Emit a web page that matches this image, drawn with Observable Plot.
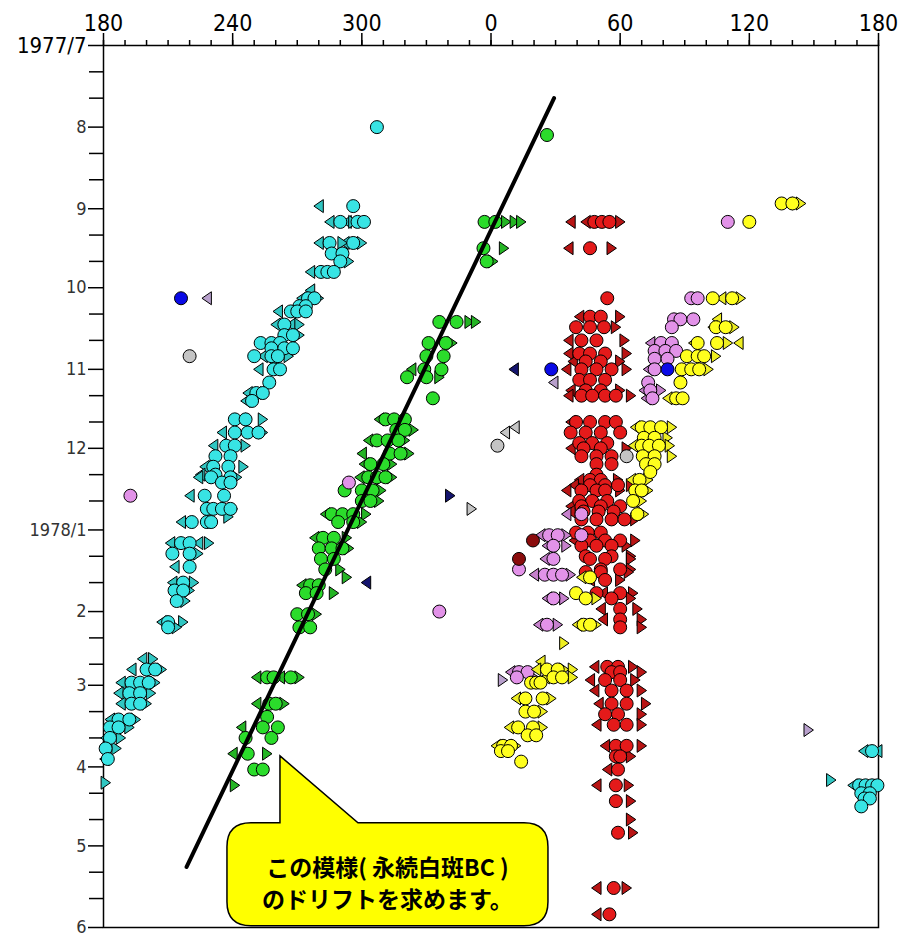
<!DOCTYPE html>
<html><head><meta charset="utf-8">
<script src="https://cdn.jsdelivr.net/npm/d3@7"></script>
<script src="https://cdn.jsdelivr.net/npm/@observablehq/plot@0.6"></script>
<style>
html,body{margin:0;padding:0;background:#fff;}
#chart{width:901px;height:936px;}
</style></head><body><div id="chart"></div>
<script>
// ---------- axis ticks & labels ----------
const xTickValues = [180, 240, 300, 360, 420, 480, 540];
const xTickLabels = ["180", "240", "300", "0", "60", "120", "180"];
const monthTicks = ["1977-07-01","1977-08-01","1977-09-01","1977-10-01","1977-11-01","1977-12-01",
  "1978-01-01","1978-02-01","1978-03-01","1978-04-01","1978-05-01","1978-06-01"];
const monthTickLabels = ["1977/7","8","9","10","11","12","1978/1","2","3","4","5","6"];

// ---------- observations: [date, preceding-end lons (◀), centre lons (●), following-end lons (▶)] ----------
const redObs = [
 ["1977-09-06",[37,44],[48,51.5,55],[57,60]],
 ["1977-09-16",[36],[46],[56]],
 ["1977-10-05",[],[54],[]],
 ["1977-10-12",[41],[46,51],[60]],
 ["1977-10-16",[],[39.5,46,52.5],[58]],
 ["1977-10-21",[36],[42,49],[62]],
 ["1977-10-26",[36],[41,46,53],[63]],
 ["1977-10-29",[38],[44,51],[60]],
 ["1977-11-01",[35],[42,49,56],[63]],
 ["1977-11-05",[],[41,46,53],[]],
 ["1977-11-09",[37],[44,51],[60]],
 ["1977-11-11",[36],[42,47,53,58],[65]],
 ["1977-11-21",[37],[39.5,46,53,58],[]],
 ["1977-11-25",[],[37,44,51,60],[]],
 ["1977-11-29",[],[41,47,54],[]],
 ["1977-12-01",[37],[43,51],[63]],
 ["1977-12-04",[],[42,49,56],[]],
 ["1977-12-07",[],[49,56],[]],
 ["1977-12-11",[],[49],[]],
 ["1977-12-13",[41],[46,51],[59]],
 ["1977-12-15",[38.5],[46,53,59],[65]],
 ["1977-12-17",[35],[42,49,53],[60]],
 ["1977-12-21",[],[41,47,54],[]],
 ["1977-12-23",[37],[42,51,60],[]],
 ["1977-12-25",[37],[43,50,57],[]],
 ["1977-12-28",[],[42,49,56,62],[67]],
 ["1978-01-02",[],[39.5,45,51],[]],
 ["1978-01-05",[38.5],[46,53,60],[67]],
 ["1978-01-07",[],[42,49,56],[63]],
 ["1978-01-11",[],[44,56],[65]],
 ["1978-01-12",[],[46,53],[65]],
 ["1978-01-16",[],[51,60],[65]],
 ["1978-01-17",[],[44,51],[64]],
 ["1978-01-20",[46],[53],[60]],
 ["1978-01-25",[52],[49,60],[66]],
 ["1978-01-27",[],[56],[65]],
 ["1978-01-31",[51],[60],[68]],
 ["1978-02-04",[52],[60],[70]],
 ["1978-02-07",[],[60],[70]],
 ["1978-02-22",[48],[54,59],[66]],
 ["1978-02-24",[],[56,60],[70]],
 ["1978-02-27",[46],[53,60],[67]],
 ["1978-03-03",[48],[56,63],[70]],
 ["1978-03-08",[50],[56,63],[72]],
 ["1978-03-12",[],[53,59],[70]],
 ["1978-03-16",[49],[57,63],[70]],
 ["1978-03-24",[53],[58,63],[70]],
 ["1978-03-28",[],[58,60],[65]],
 ["1978-04-02",[54],[59],[]],
 ["1978-04-08",[49],[58],[64]],
 ["1978-04-14",[],[58],[65]],
 ["1978-04-21",[],[],[65]],
 ["1978-04-26",[],[59],[66]],
 ["1978-05-17",[49],[57],[63]],
 ["1978-05-27",[49],[55],[]]
];
const cyanObs = [
 ["1977-08-01",[],[307],[]],
 ["1977-08-31",[280],[296],[]],
 ["1977-09-06",[285,293],[290,298,301],[296]],
 ["1977-09-14",[280,292],[285,296],[291,300]],
 ["1977-09-18",[],[286,291],[]],
 ["1977-09-21",[],[290],[294]],
 ["1977-09-25",[276],[281,284,287],[]],
 ["1977-10-02",[276],[],[]],
 ["1977-10-05",[272],[275,278],[280]],
 ["1977-10-08",[],[271,274],[]],
 ["1977-10-10",[261],[267,270,274],[]],
 ["1977-10-15",[260,267],[264],[271]],
 ["1977-10-19",[],[264,268],[271]],
 ["1977-10-22",[260],[253,258,262],[]],
 ["1977-10-24",[],[258,264,268],[]],
 ["1977-10-27",[254],[250,258,261],[266]],
 ["1977-10-30",[],[],[260]],
 ["1977-11-01",[252],[259,262],[]],
 ["1977-11-06",[],[257],[]],
 ["1977-11-10",[247,251],[251,254],[]],
 ["1977-11-13",[246],[249],[]],
 ["1977-11-20",[244],[241,246],[254]],
 ["1977-11-25",[235],[241,247,252],[254]],
 ["1977-11-30",[231],[237,241],[246]],
 ["1977-12-04",[],[232,239],[]],
 ["1977-12-08",[227],[231,238],[245]],
 ["1977-12-11",[225],[232],[]],
 ["1977-12-12",[224],[230,239],[242]],
 ["1977-12-14",[],[235,239],[]],
 ["1977-12-19",[220],[227,236],[]],
 ["1977-12-24",[],[228,231,235,239],[240]],
 ["1977-12-27",[],[],[238]],
 ["1977-12-29",[216],[221,228,230],[]],
 ["1978-01-06",[211,224],[216,220],[229]],
 ["1978-01-10",[],[212,220],[224]],
 ["1978-01-15",[213],[220],[]],
 ["1978-01-21",[212],[217],[222]],
 ["1978-01-24",[],[213,217],[220]],
 ["1978-01-28",[],[214],[218]],
 ["1978-02-05",[207],[210],[217]],
 ["1978-02-07",[],[210],[214]],
 ["1978-02-19",[198],[],[203]],
 ["1978-02-23",[193],[200,204],[207]],
 ["1978-02-28",[188],[193,197,201],[204]],
 ["1978-03-04",[187],[192,197],[202]],
 ["1978-03-08",[188],[193,197],[200]],
 ["1978-03-14",[183],[187,192],[195]],
 ["1978-03-17",[],[183,187],[192]],
 ["1978-03-21",[181],[183],[188]],
 ["1978-03-25",[],[181],[186]],
 ["1978-03-29",[180.5],[182],[]],
 ["1978-04-07",[],[],[181]],
 ["1978-03-26",[173,179.5],[177],[]],
 ["1978-04-06",[],[],[158]],
 ["1978-04-08",[168],[171,174,177,179.5],[]],
 ["1978-04-11",[],[172,176],[]],
 ["1978-04-13",[],[173.5,176],[]],
 ["1978-04-16",[],[172],[]]
];
const greenObs = [
 ["1977-08-04",[],[26],[]],
 ["1977-09-06",[],[357,2],[7,11,14]],
 ["1977-09-16",[],[356.5],[6]],
 ["1977-09-21",[],[358],[1]],
 ["1977-10-14",[],[336,344],[350,353]],
 ["1977-10-22",[],[331,339],[342]],
 ["1977-10-27",[],[330,338],[]],
 ["1977-11-01",[323],[329,337],[]],
 ["1977-11-04",[],[321,330],[336]],
 ["1977-11-12",[],[333],[]],
 ["1977-11-20",[308],[311,315,320],[]],
 ["1977-11-24",[],[316,320],[324]],
 ["1977-11-28",[303],[307,312,317],[320]],
 ["1977-12-03",[300],[313,318],[322]],
 ["1977-12-07",[301],[304,310],[314]],
 ["1977-12-12",[299],[303,307,311],[314]],
 ["1977-12-17",[],[292,300,305],[309]],
 ["1977-12-21",[],[300,304],[308]],
 ["1977-12-26",[283],[286,291,296],[302]],
 ["1977-12-29",[],[289,296],[300]],
 ["1978-01-04",[278],[282,287],[293]],
 ["1978-01-08",[],[280,286,291],[294]],
 ["1978-01-12",[],[281,287],[]],
 ["1978-01-16",[],[283],[290]],
 ["1978-01-19",[],[],[293]],
 ["1978-01-22",[272],[276,280],[]],
 ["1978-01-25",[],[274,279],[287]],
 ["1978-02-02",[],[270,275],[279]],
 ["1978-02-07",[],[271,276],[]],
 ["1978-02-26",[251,262],[256,259,267],[271]],
 ["1978-03-08",[251],[257,260],[264]],
 ["1978-03-13",[],[256],[]],
 ["1978-03-17",[244],[254,261],[]],
 ["1978-03-21",[],[246,258],[]],
 ["1978-03-27",[240],[247],[256]],
 ["1978-04-02",[],[250,254],[]],
 ["1978-04-08",[],[],[241]]
];
const violetObs = [
 ["1977-09-06",[],[110],[]],
 ["1977-10-05",[],[93,96],[]],
 ["1977-10-13",[],[85,88,94],[]],
 ["1977-10-16",[],[84],[]],
 ["1977-10-22",[74],[79,84],[]],
 ["1977-10-25",[],[76,81,86],[]],
 ["1977-10-28",[],[76,82],[]],
 ["1977-11-01",[73],[76],[]],
 ["1977-11-06",[],[73],[]],
 ["1977-11-09",[71],[74],[79]],
 ["1977-11-12",[72],[75],[]],
 ["1977-12-14",[],[294],[]],
 ["1977-12-19",[],[192.5],[]],
 ["1977-12-26",[35],[42],[]],
 ["1978-01-03",[23],[27,31,42],[35]],
 ["1978-01-07",[26],[29],[35]],
 ["1978-01-12",[25],[29],[]],
 ["1978-01-16",[],[13],[]],
 ["1978-01-18",[20],[25,29,33],[37]],
 ["1978-01-27",[26],[29],[34]],
 ["1978-02-01",[],[336],[]],
 ["1978-02-06",[22],[26],[31]],
 ["1978-02-24",[9],[13,17],[]],
 ["1978-02-26",[],[12],[20]]
];
const yellowObs = [
 ["1977-08-30",[138],[135,140],[144]],
 ["1977-09-06",[],[120],[]],
 ["1977-10-05",[107],[103,112],[116]],
 ["1977-10-13",[105],[],[]],
 ["1977-10-16",[103],[104.5,109],[113]],
 ["1977-10-22",[94,115],[96,105],[110]],
 ["1977-10-27",[],[91,96,99],[104.5]],
 ["1977-11-01",[],[88.6,93,96.7],[101]],
 ["1977-11-06",[],[88],[]],
 ["1977-11-12",[82],[86,89],[]],
 ["1977-11-23",[67],[70,74,79],[84]],
 ["1977-11-27",[],[71,76],[82]],
 ["1977-11-30",[66],[70,73.5,78],[83]],
 ["1977-12-04",[],[70.5,76],[84]],
 ["1977-12-07",[],[72,76],[]],
 ["1977-12-10",[],[74],[]],
 ["1977-12-13",[65],[69],[73]],
 ["1977-12-17",[],[67,70],[73]],
 ["1977-12-21",[],[66],[70]],
 ["1977-12-26",[],[68],[71]],
 ["1978-01-19",[42],[46],[]],
 ["1978-01-25",[],[39.5],[]],
 ["1978-01-27",[],[44],[49]],
 ["1978-02-06",[40],[43,46],[49]],
 ["1978-02-13",[],[],[34]],
 ["1978-02-20",[23],[],[]],
 ["1978-02-23",[21],[26,31],[34,38]],
 ["1978-02-26",[25],[29,33],[38]],
 ["1978-02-28",[],[18.6,21,23],[]],
 ["1978-03-06",[11.6],[16,24],[28]],
 ["1978-03-11",[],[16,20],[24]],
 ["1978-03-17",[8.4],[12.6,19.5],[24]],
 ["1978-03-20",[],[17,21],[]],
 ["1978-03-24",[2.3],[5.6,9.3],[11.6]],
 ["1978-03-26",[],[4.6,7.9],[]],
 ["1978-03-30",[],[14],[]]
];
const maroonObs = [["1978-01-05",[],[19.5],[]],["1978-01-12",[],[13],[]]];
const grayObs = [["1977-10-27",[],[220],[]],["1977-11-23",[11],[],[]],["1977-11-25",[6.5],[],[]],
  ["1977-11-30",[],[3],[]],["1977-12-04",[],[63],[]],["1977-12-24",[],[],[351]]];
const lavenderObs = [["1977-10-05",[228],[],[]],["1977-11-06",[29],[],[]],["1978-02-27",[],[],[5.5]],["1978-03-18",[],[],[147.5]]];
const blueObs = [["1977-10-05",[],[216],[]],["1977-11-01",[],[28,82],[]]];
const navyObs = [["1977-11-01",[10.6],[],[]],["1977-12-19",[],[],[341]],["1978-01-21",[302],[],[]]];

// drift line of the white spot BC, and callout
const driftLine = [{lon: 29.3, date: "1977-07-21"}, {lon: 218.6, date: "1978-05-09"}];
const calloutTip = {lon: 262.2, date: "1978-03-28"};
const calloutLines = ["この模様( 永続白斑BC )", "のドリフトを求めます。"];

// ---------- helpers ----------
const unwrap = lon => lon < 180 ? lon + 360 : lon;   // continuous axis 180 → 360/0 → 180
function points(rows, kind) {
  const idx = {p: 1, c: 2, f: 3}[kind];
  return rows.flatMap(r => r[idx].map(lon => ({x: unwrap(lon), date: new Date(r[0])})));
}
const triLeft = {draw(ctx, size) { const r = Math.sqrt(size / Math.PI);
  ctx.moveTo(-0.75 * r, 0); ctx.lineTo(0.7 * r, -r); ctx.lineTo(0.7 * r, r); ctx.closePath(); }};
const triRight = {draw(ctx, size) { const r = Math.sqrt(size / Math.PI);
  ctx.moveTo(0.75 * r, 0); ctx.lineTo(-0.7 * r, -r); ctx.lineTo(-0.7 * r, r); ctx.closePath(); }};

const features = [
  {rows: redObs, circle: "#e41a1a", tri: "#b81414"},
  {rows: cyanObs, circle: "#38e4e4", tri: "#30c6c2"},
  {rows: greenObs, circle: "#2bdc2b", tri: "#24b424"},
  {rows: violetObs, circle: "#e292e8", tri: "#c681cc"},
  {rows: yellowObs, circle: "#ffff1e", tri: "#eeee22"},
  {rows: maroonObs, circle: "#8a0c0c", tri: "#8a0c0c"},
  {rows: grayObs, circle: "#c4c4c4", tri: "#c4c4c4"},
  {rows: lavenderObs, circle: "#c2a6d2", tri: "#b8a0cc"},
  {rows: blueObs, circle: "#0a0ae6", tri: "#0a0ae6"},
  {rows: navyObs, circle: "#14146e", tri: "#14146e"}
];
const R = 6.5;
const dotMarks = features.flatMap(f => [
  Plot.dot(points(f.rows, "p"), {x: "x", y: "date", symbol: triLeft, r: R, fill: f.tri, stroke: "black", strokeWidth: 1}),
  Plot.dot(points(f.rows, "f"), {x: "x", y: "date", symbol: triRight, r: R, fill: f.tri, stroke: "black", strokeWidth: 1}),
  Plot.dot(points(f.rows, "c"), {x: "x", y: "date", r: R, fill: f.circle, stroke: "black", strokeWidth: 1})
]);

const monthDates = monthTicks.map(d => new Date(d));
const dekadDates = monthDates.slice(0, -1).flatMap(m => [11, 21].map(day => new Date(Date.UTC(m.getUTCFullYear(), m.getUTCMonth(), day))));
const xMinor = d3.range(180, 541, 10);
const narrow = "'Liberation Sans Narrow', 'DejaVu Sans Condensed', 'Arial Narrow', sans-serif";

function callout(index, scales) {
  const ns = "http://www.w3.org/2000/svg";
  const tx = scales.x(unwrap(calloutTip.lon)), ty = scales.y(new Date(calloutTip.date));
  const L = tx - 53, Rt = tx + 268, T = ty + 67, B = ty + 170, rr = 24;
  const g = document.createElementNS(ns, "g");
  const p = document.createElementNS(ns, "path");
  p.setAttribute("d", `M${tx},${ty}L${tx + 78},${T}H${Rt - rr}Q${Rt},${T} ${Rt},${T + rr}V${B - rr}Q${Rt},${B} ${Rt - rr},${B}H${L + rr}Q${L},${B} ${L},${B - rr}V${T + rr}Q${L},${T} ${L + rr},${T}H${tx}Z`);
  p.setAttribute("fill", "#ffff00"); p.setAttribute("stroke", "black"); p.setAttribute("stroke-width", "1.5");
  g.appendChild(p);
  calloutLines.forEach((line, i) => {
    const t = document.createElementNS(ns, "text");
    t.setAttribute("x", (L + Rt) / 2); t.setAttribute("y", T + 43 + i * 32);
    t.setAttribute("text-anchor", "middle"); t.setAttribute("dominant-baseline", "central");
    t.setAttribute("font-family", "'Noto Sans CJK JP', sans-serif");
    t.setAttribute("font-weight", "bold"); t.setAttribute("font-size", "23");
    t.setAttribute("fill", "black");
    t.textContent = line;
    g.appendChild(t);
  });
  return g;
}

const chart = Plot.plot({
  width: 901, height: 936,
  marginLeft: 103, marginRight: 23, marginTop: 45, marginBottom: 9,
  style: {background: "white", color: "black", overflow: "visible"},
  x: {domain: [180, 540], axis: null, label: null},
  y: {type: "utc", domain: [monthDates[0], monthDates[monthDates.length - 1]], reverse: true, axis: null, label: null},
  marks: [
    Plot.frame({stroke: "black", strokeWidth: 1.5}),
    Plot.axisX({anchor: "top", ticks: xMinor, tickSize: 6, strokeWidth: 1.5, tickFormat: () => "", label: null}),
    Plot.axisX({anchor: "top", ticks: xTickValues, tickSize: 13, strokeWidth: 1.5, tickPadding: 2,
      tickFormat: d => xTickLabels[xTickValues.indexOf(d)], fontSize: 23, fontFamily: narrow, label: null}),
    Plot.axisY({anchor: "left", ticks: dekadDates, tickSize: 14, strokeWidth: 1.5, tickFormat: () => "", label: null}),
    Plot.axisY({anchor: "left", ticks: monthDates.slice(1), tickSize: 15, strokeWidth: 1.5, tickPadding: 2,
      tickFormat: d => monthTickLabels[monthDates.findIndex(m => +m === +d)], fontSize: 18, fontFamily: narrow, fill: "#333", label: null}),
    Plot.axisY({anchor: "left", ticks: monthDates.slice(0, 1), tickSize: 15, strokeWidth: 1.5, tickPadding: 2,
      tickFormat: d => monthTickLabels[0], fontSize: 22, fontFamily: narrow, label: null}),
    ...dotMarks,
    Plot.line(driftLine, {x: d => unwrap(d.lon), y: d => new Date(d.date), stroke: "black", strokeWidth: 4}),
    callout
  ]
});
document.getElementById("chart").appendChild(chart);
</script></body></html>
